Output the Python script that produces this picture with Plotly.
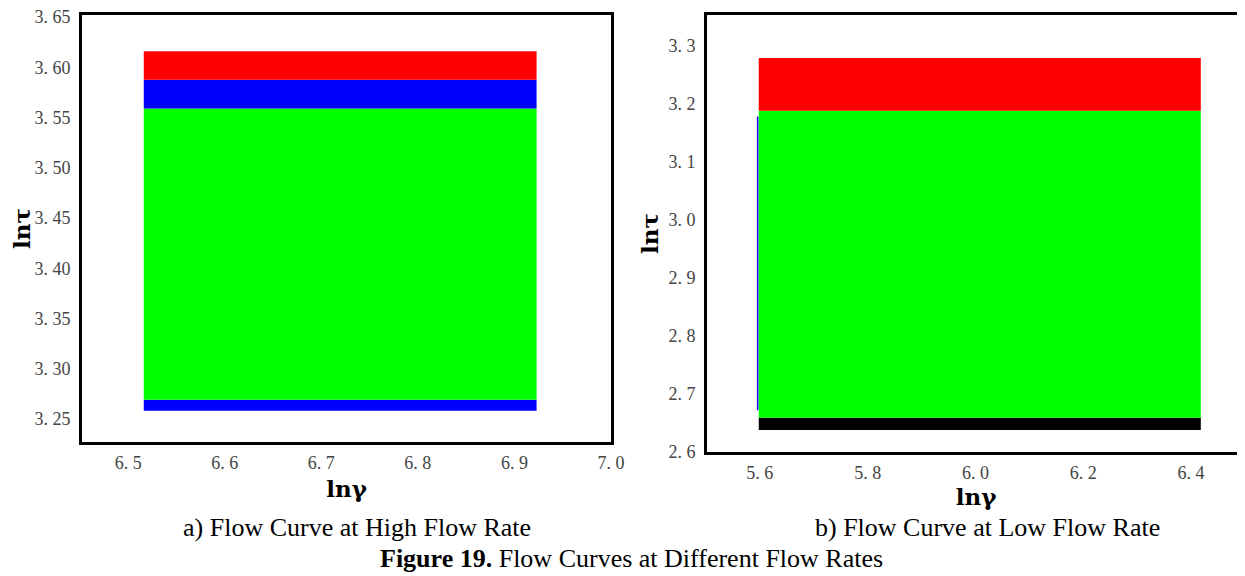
import plotly.graph_objects as go

# ---- data ----
high_x = [6.516, 6.923]
high_levels = [3.258, 3.269, 3.559, 3.5875, 3.616]   # band boundaries, bottom -> top
high_colors = ["#0000ff", "#00ff00", "#0000ff", "#ff0000"]

low_x = [5.598, 6.418]
low_levels = [2.638, 2.659, 3.188, 3.279]
low_colors = ["#000000", "#00ff00", "#ff0000"]
low_blue_x = [5.596, 5.596]
low_blue_y = [2.672, 3.178]

high_yticks = [3.25, 3.30, 3.35, 3.40, 3.45, 3.50, 3.55, 3.60, 3.65]
high_xticks = [6.5, 6.6, 6.7, 6.8, 6.9, 7.0]
low_yticks = [2.6, 2.7, 2.8, 2.9, 3.0, 3.1, 3.2, 3.3]
low_xticks = [5.6, 5.8, 6.0, 6.2, 6.4]

W, H = 1245, 576
OFF = 8  # page body margin


def px(x):
    return (x - OFF) / W


def py(y):
    return 1 - (y - OFF) / H


def lab(v, d):
    s = f"{v:.{d}f}"
    return s.replace(".", ". ")


fig = go.Figure()

# left panel bands
fig.add_trace(go.Scatter(x=high_x, y=[high_levels[0]] * 2, mode="lines",
                         line=dict(width=0, color="rgba(0,0,0,0)"),
                         xaxis="x", yaxis="y", showlegend=False, hoverinfo="skip"))
for lv, c in zip(high_levels[1:], high_colors):
    fig.add_trace(go.Scatter(x=high_x, y=[lv] * 2, mode="lines", fill="tonexty",
                             line=dict(width=0, color=c),
                             fillcolor=c, xaxis="x", yaxis="y", showlegend=False))

# right panel bands
fig.add_trace(go.Scatter(x=low_x, y=[low_levels[0]] * 2, mode="lines",
                         line=dict(width=0, color="rgba(0,0,0,0)"),
                         xaxis="x2", yaxis="y2", showlegend=False, hoverinfo="skip"))
for lv, c in zip(low_levels[1:], low_colors):
    fig.add_trace(go.Scatter(x=low_x, y=[lv] * 2, mode="lines", fill="tonexty",
                             line=dict(width=0, color=c),
                             fillcolor=c, xaxis="x2", yaxis="y2", showlegend=False))
fig.add_trace(go.Scatter(x=low_blue_x, y=low_blue_y, mode="lines",
                         line=dict(color="#0000ff", width=1.5),
                         xaxis="x2", yaxis="y2", showlegend=False))

tickfont = dict(family="Liberation Serif", size=18, color="#444444")
titlefont = dict(family="DejaVu Serif", size=23, color="#000000")

common = dict(showgrid=False, zeroline=False, showline=True, linecolor="black",
              linewidth=3, ticks="", tickfont=tickfont, automargin=False,
              ticklabeloverflow="allow")

fig.update_layout(
    width=W, height=H,
    margin=dict(l=0, r=0, t=0, b=0),
    paper_bgcolor="white", plot_bgcolor="white",
    xaxis=dict(domain=[px(82), px(611)], range=[6.452, 7.0001], anchor="y",
               tickvals=high_xticks, ticktext=[lab(v, 1) for v in high_xticks],
               mirror=True, ticklabelstandoff=2,
               title=dict(text="<b>lnγ</b>", font=titlefont, standoff=10), **common),
    yaxis=dict(domain=[py(442), py(15)], range=[3.227, 3.652], anchor="x",
               tickvals=high_yticks, ticktext=[lab(v, 2) for v in high_yticks],
               mirror=True, ticklabelstandoff=5,
               title=dict(text="<b>lnτ</b>", font=titlefont, standoff=10), **common),
    xaxis2=dict(domain=[px(707), px(1245)], range=[5.502, 6.5], anchor="y2",
                tickvals=low_xticks, ticktext=[lab(v, 1) for v in low_xticks],
                mirror=True, ticklabelstandoff=2,
                title=dict(text="<b>lnγ</b>", font=titlefont, standoff=0), **common),
    yaxis2=dict(domain=[py(452), py(15)], range=[2.6, 3.353], anchor="x2",
                tickvals=low_yticks, ticktext=[lab(v, 1) for v in low_yticks],
                mirror=False, ticklabelstandoff=5,
                title=dict(text="<b>lnτ</b>", font=titlefont, standoff=4), **common),
)

capfont = dict(family="Liberation Serif", size=26, color="black")
fig.add_annotation(text="a) Flow Curve at High Flow Rate", x=px(357), y=py(527),
                   xref="paper", yref="paper", showarrow=False, font=capfont,
                   xanchor="center", yanchor="middle")
fig.add_annotation(text="b) Flow Curve at Low Flow Rate", x=px(987), y=py(527),
                   xref="paper", yref="paper", showarrow=False, font=capfont,
                   xanchor="center", yanchor="middle")
fig.add_annotation(text="<b>Figure 19.</b> Flow Curves at Different Flow Rates",
                   x=px(631), y=py(558), xref="paper", yref="paper",
                   showarrow=False, font=capfont, xanchor="center", yanchor="middle")

fig.write_html("out.html")
